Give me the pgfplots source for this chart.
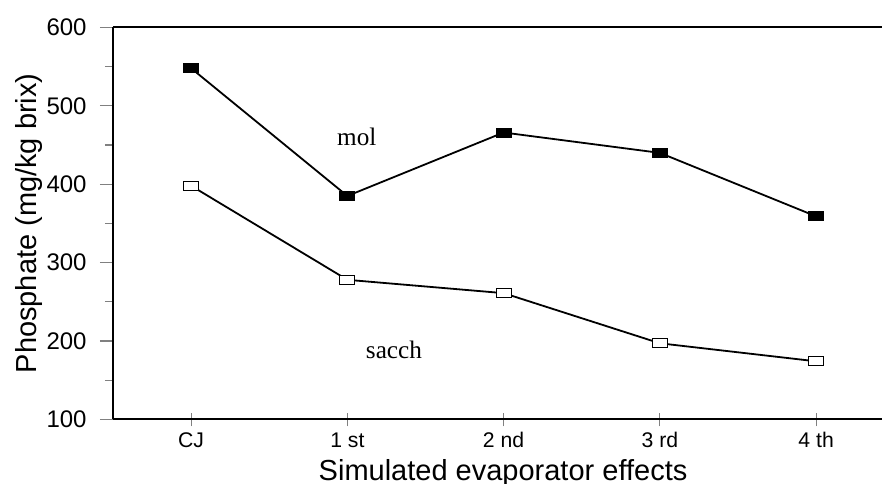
\documentclass[border=0pt]{standalone}
\usepackage{fontspec}
\setmainfont{Liberation Sans}
\newfontfamily\seriffont{Liberation Serif}
\usepackage{pgfplots}
\pgfplotsset{compat=1.18}
\begin{document}
\begin{tikzpicture}
\begin{axis}[
  scale only axis, width=384.5bp, height=195.9bp,
  xmin=-0.5, xmax=4.4216, ymin=100, ymax=600,
  axis x line*=box, axis y line*=left,
  axis line style={-, line width=1bp, black},
  xtick={0,1,2,3,4}, xticklabels={CJ,1 st,2 nd,3 rd,4 th},
  ytick={100,200,300,400,500,600}, minor ytick={150,250,350,450,550},
  xtick pos=bottom, ytick pos=left,
  tick align=outside,
  major tick length=6.5bp, minor tick length=4bp,
  tick style={color=gray, line width=0.6bp},
  xtick style={yshift=3bp},
  /pgf/number format/assume math mode=true,
  xticklabel style={font=\fontsize{10.6bp}{12bp}\selectfont, anchor=base, yshift=-7.7bp},
  yticklabel style={font=\fontsize{12bp}{14bp}\selectfont, anchor=east, xshift=-3.2bp},
  label style={font=\fontsize{14.5bp}{16bp}\selectfont},
  xlabel={Simulated evaporator effects},
  ylabel={Phosphate (mg/kg brix)},
  xlabel style={at={(axis description cs:0.5072,0)}, anchor=base, yshift=-30.35bp},
  ylabel style={at={(axis description cs:-0.1001,0.5)}, anchor=base},
  clip=false,
]
\addplot[black, line width=0.9bp, mark=square*, mark size=2.25bp,
  mark options={fill=black, xscale=1.67, line width=0.5bp}]
  coordinates {(0,548) (1,385) (2,466) (3,440) (4,359)};
\addplot[black, line width=0.9bp, mark=square*, mark size=2.25bp,
  mark options={fill=white, xscale=1.67, line width=0.5bp}]
  coordinates {(0,398) (1,278) (2,261) (3,197) (4,174)};
\node[font=\seriffont\fontsize{12.6bp}{14bp}\selectfont, anchor=base] at (axis cs:1.06,448.8) {mol};
\node[font=\seriffont\fontsize{12.6bp}{14bp}\selectfont, anchor=base] at (axis cs:1.298,177.8) {sacch};
\end{axis}
\pgfresetboundingbox
\useasboundingbox (-56.5bp,-32.35bp) rectangle (385bp,209.65bp);
\end{tikzpicture}
\end{document}
